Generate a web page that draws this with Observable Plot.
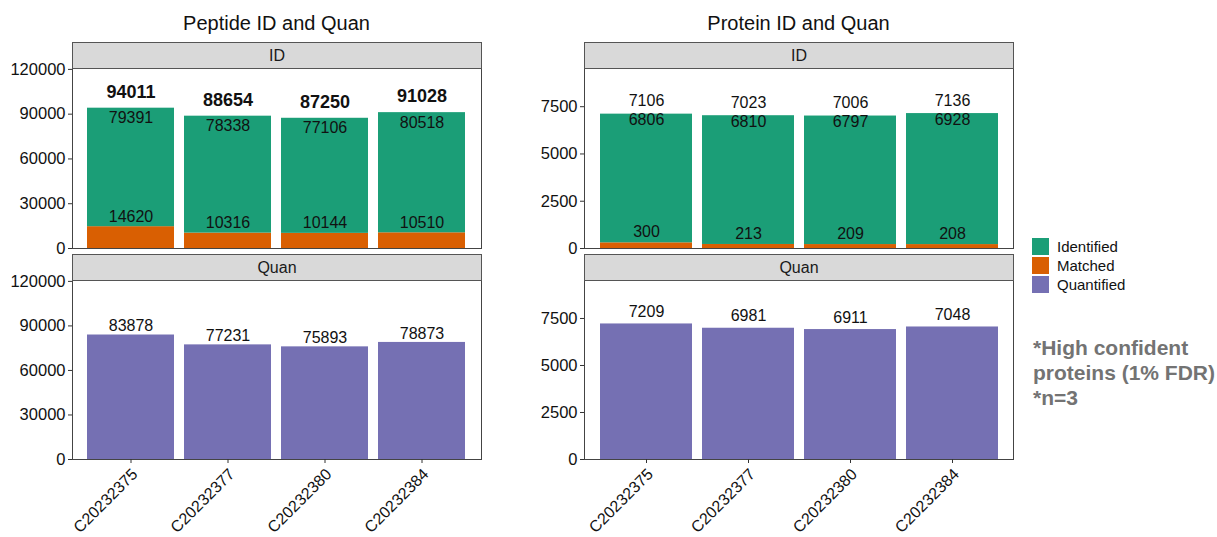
<!DOCTYPE html>
<html>
<head>
<meta charset="utf-8">
<script src="https://cdn.jsdelivr.net/npm/d3@7"></script>
<script src="https://cdn.jsdelivr.net/npm/@observablehq/plot@0.6"></script>
<style>
  html, body { margin: 0; padding: 0; background: #fff; }
  #root { position: relative; width: 1217px; height: 537px; overflow: hidden; font-family: "Liberation Sans", Arial, Helvetica, sans-serif; color: #111; }
  .abs { position: absolute; }
  .title { font-size: 20px; text-align: center; transform: translateX(-50%); white-space: nowrap; color: #111; }
  .strip { box-sizing: border-box; background: #d9d9d9; border: 1px solid #555; font-size: 16px; text-align: center; z-index: 3; color: #1a1a1a; }
  .panel svg { overflow: visible; background: transparent; }
  .leg-item { display: flex; align-items: center; height: 19px; font-size: 15px; color: #111; }
  .leg-sw { width: 17px; height: 17px; margin-right: 8px; }
  .note { font-size: 21px; line-height: 25px; color: #737373; font-weight: bold; white-space: nowrap; }
</style>
</head>
<body>
<div id="root"></div>
<script>
// ---------------- data ----------------
const samples = ["C20232375", "C20232377", "C20232380", "C20232384"];

const pepIdentified = [79391, 78338, 77106, 80518];
const pepMatched    = [14620, 10316, 10144, 10510];
const pepTotal      = [94011, 88654, 87250, 91028];
const pepQuantified = [83878, 77231, 75893, 78873];

const protIdentified = [6806, 6810, 6797, 6928];
const protMatched    = [300, 213, 209, 208];
const protTotal      = [7106, 7023, 7006, 7136];
const protQuantified = [7209, 6981, 6911, 7048];

const pepTicks  = [0, 30000, 60000, 90000, 120000];
const protTicks = [0, 2500, 5000, 7500];

const seriesNames  = ["Identified", "Matched", "Quantified"];
const seriesColors = ["#1b9e77", "#d95f02", "#7570b3"];

const panelTitles = ["Peptide ID and Quan", "Protein ID and Quan"];
const facetNames = ["ID", "Quan"];
const noteLines = ["*High confident", "proteins (1% FDR)", "*n=3"];

// ---------------- helpers ----------------
const root = document.getElementById("root");
const color = {domain: seriesNames, range: seriesColors};
const FONT = '"Liberation Sans", Arial, Helvetica, sans-serif';

function addDiv(cls, css, text) {
  const d = document.createElement("div");
  d.className = "abs " + cls;
  Object.assign(d.style, css);
  if (text != null) d.textContent = text;
  root.appendChild(d);
  return d;
}

function idRows(ident, matched, total) {
  return samples.map((s, i) => ({sample: s, ident: ident[i], matched: matched[i], total: total[i]}));
}
function quanRows(q) {
  return samples.map((s, i) => ({sample: s, value: q[i]}));
}

function makePanel({marks, yMax, ticks, svgLeft, frameLeft, frameRight, frameTop, frameBottom, showX}) {
  const mt = 20, mb = showX ? 78 : 10, mr = 8;
  const width = frameRight - svgLeft + mr;
  const height = mt + (frameBottom - frameTop) + mb;
  const chart = Plot.plot({
    width, height,
    marginLeft: frameLeft - svgLeft, marginRight: mr, marginTop: mt, marginBottom: mb,
    style: {fontFamily: FONT, background: "transparent", overflow: "visible", color: "#111"},
    x: {type: "band", domain: samples, paddingInner: 0.1, paddingOuter: 0.15, axis: null, label: null},
    y: {domain: [0, yMax], axis: null, label: null},
    color,
    marks: [
      ...marks,
      Plot.frame({stroke: "#444", strokeWidth: 1}),
      Plot.axisY({ticks, label: null, tickSize: 4, tickPadding: 3, fontSize: 16.5, tickFormat: d => String(d), stroke: "#333"}),
      ...(showX ? [
        Plot.axisX({label: null, tickSize: 4, tickFormat: () => "", stroke: "#333"}),
        Plot.axisX({label: null, tickSize: 0, tickPadding: 12, fontSize: 16, tickRotate: -45, dx: 4})
      ] : [])
    ]
  });
  const wrap = addDiv("panel", {left: svgLeft + "px", top: (frameTop - mt) + "px"});
  wrap.appendChild(chart);
}

function idMarks(rows, {totalBold, totalSize, totalDy, identDy, matchedDy}) {
  return [
    Plot.barY(rows, {x: "sample", y1: 0, y2: "matched", fill: () => "Matched"}),
    Plot.barY(rows, {x: "sample", y1: "matched", y2: "total", fill: () => "Identified"}),
    Plot.text(rows, {x: "sample", y: "total", text: d => String(d.total), dy: totalDy, fontSize: totalSize, fontWeight: totalBold ? "bold" : "normal", fill: "#111"}),
    Plot.text(rows, {x: "sample", y: "total", text: d => String(d.ident), dy: identDy, fontSize: 16, fill: "#111"}),
    Plot.text(rows, {x: "sample", y: "matched", text: d => String(d.matched), dy: matchedDy, fontSize: 16, fill: "#111"})
  ];
}
function quanMarks(rows, dy) {
  return [
    Plot.barY(rows, {x: "sample", y: "value", fill: () => "Quantified"}),
    Plot.text(rows, {x: "sample", y: "value", text: d => String(d.value), dy, fontSize: 16, fill: "#111"})
  ];
}

// ---------------- layout ----------------
const cols = [
  {svgLeft: 0, frameLeft: 72, frameRight: 481, yMax: 120600, ticks: pepTicks,
   id: idMarks(idRows(pepIdentified, pepMatched, pepTotal), {totalBold: true, totalSize: 18, totalDy: -16, identDy: 10, matchedDy: -10}),
   quan: quanMarks(quanRows(pepQuantified), -9)},
  {svgLeft: 500, frameLeft: 584, frameRight: 1013, yMax: 9520, ticks: protTicks,
   id: idMarks(idRows(protIdentified, protMatched, protTotal), {totalBold: false, totalSize: 16, totalDy: -13, identDy: 6, matchedDy: -11}),
   quan: quanMarks(quanRows(protQuantified), -12)}
];
const rowsLayout = [
  {stripTop: 42, frameTop: 68, frameBottom: 248},
  {stripTop: 254, frameTop: 280, frameBottom: 459}
];

cols.forEach((c, ci) => {
  addDiv("title", {left: ((c.frameLeft + c.frameRight) / 2) + "px", top: "12px"}, panelTitles[ci]);
  rowsLayout.forEach((r, ri) => {
    makePanel({
      marks: ri === 0 ? c.id : c.quan, yMax: c.yMax, ticks: c.ticks,
      svgLeft: c.svgLeft, frameLeft: c.frameLeft, frameRight: c.frameRight,
      frameTop: r.frameTop, frameBottom: r.frameBottom, showX: ri === 1
    });
    addDiv("strip", {
      left: c.frameLeft + "px", top: r.stripTop + "px",
      width: (c.frameRight - c.frameLeft + 1) + "px", height: (r.frameTop - r.stripTop + 1) + "px",
      lineHeight: (r.frameTop - r.stripTop - 1) + "px"
    }, facetNames[ri]);
  });
});

// legend
const leg = addDiv("legend", {left: "1032px", top: "237px"});
seriesNames.forEach((n, i) => {
  const item = document.createElement("div");
  item.className = "leg-item";
  const sw = document.createElement("span");
  sw.className = "leg-sw";
  sw.style.background = seriesColors[i];
  const lab = document.createElement("span");
  lab.textContent = n;
  item.appendChild(sw); item.appendChild(lab);
  leg.appendChild(item);
});

// note
const note = addDiv("note", {left: "1033px", top: "335px"});
noteLines.forEach(t => { const l = document.createElement("div"); l.textContent = t; note.appendChild(l); });
</script>
</body>
</html>
